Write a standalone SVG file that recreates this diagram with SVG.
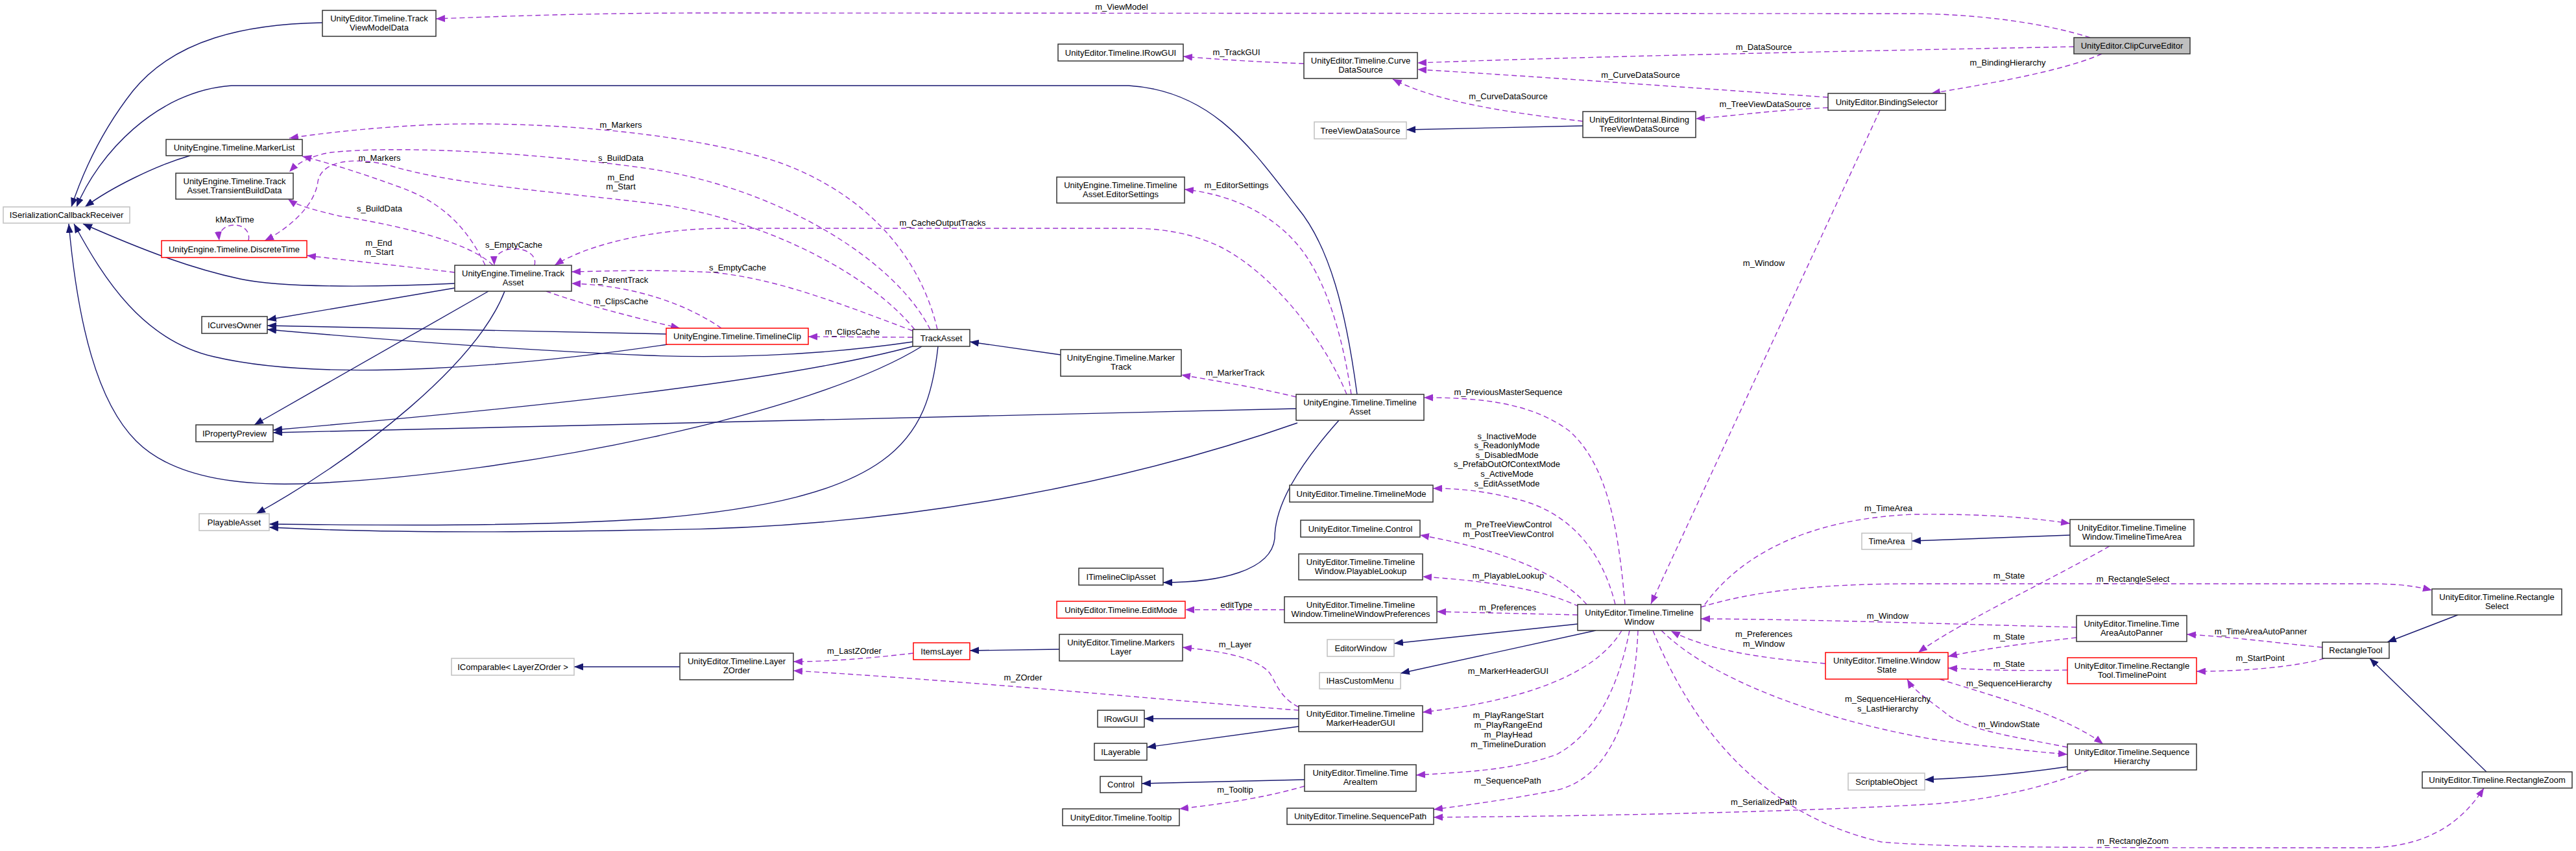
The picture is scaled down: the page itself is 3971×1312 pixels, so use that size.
<svg xmlns="http://www.w3.org/2000/svg" width="3971" height="1312" viewBox="0 0 3971 1312">
<style>
text{font-family:"Liberation Sans",Arial,sans-serif;font-size:13px;text-anchor:middle;fill:#000}
.n rect{fill:#fff;stroke:#333;stroke-width:1.5}
.n.red rect{stroke:#f00}
.n.gray rect{stroke:#c0c0c0}
.n.main rect{fill:#bfbfbf}
.inh{fill:none;stroke:#191970;stroke-width:1.4;marker-end:url(#an)}
.use{fill:none;stroke:#9a32cd;stroke-width:1.4;stroke-dasharray:8,5;marker-end:url(#ap)}
</style>
<defs>
<marker id="an" viewBox="0 0 14 11" refX="14" refY="5.5" markerWidth="14" markerHeight="11" markerUnits="userSpaceOnUse" orient="auto"><path d="M0,0 L14,5.5 L0,11 z" fill="#191970"/></marker>
<marker id="ap" viewBox="0 0 14 11" refX="14" refY="5.5" markerWidth="14" markerHeight="11" markerUnits="userSpaceOnUse" orient="auto"><path d="M0,0 L14,5.5 L0,11 z" fill="#9a32cd"/></marker>
</defs>
<rect width="3971" height="1312" fill="#fff"/>
<g id="connectors">
<path class="inh" d="M497,35 C380,37 270,60 205,140 C150,210 123,280 110,319"/>
<path class="inh" d="M2092,608 C2075,480 2050,380 2000,320 C1930,230 1870,140 1740,132 L357,132 C240,140 150,240 118,319"/>
<path class="inh" d="M293,240 C240,255 170,290 131,319"/>
<path class="inh" d="M701,437 C600,442 440,445 370,430 C300,415 230,390 128,345"/>
<path class="inh" d="M1421,534 C1250,640 800,730 485,745 C350,752 260,730 210,680 C150,620 120,500 106,345"/>
<path class="inh" d="M1029,531 C800,565 500,590 330,550 C220,525 160,430 114,345"/>
<path class="inh" d="M701,444 L412,493"/>
<path class="inh" d="M753,449 L392,655"/>
<path class="inh" d="M778,449 C735,560 560,700 395,792"/>
<path class="inh" d="M1027,515 L412,502"/>
<path class="inh" d="M1407,527 C1250,550 1100,552 1000,548 C800,540 550,520 412,508"/>
<path class="inh" d="M1407,534 C1200,590 800,630 421,663"/>
<path class="inh" d="M1998,630 L421,667"/>
<path class="inh" d="M1446,534 C1430,680 1380,770 1000,800 C800,812 600,810 415,808"/>
<path class="inh" d="M2000,652 C1750,740 1400,815 1000,817 C750,822 550,820 415,813"/>
<path class="inh" d="M2064,648 C2000,720 1965,780 1965,830 C1960,880 1880,898 1793,898"/>
<path class="inh" d="M1635,547 L1495,527"/>
<path class="inh" d="M2440,194 L2168,200"/>
<path class="inh" d="M3191,825 L2947,834"/>
<path class="inh" d="M1048,1028 L885,1028"/>
<path class="inh" d="M1633,1001 L1495,1003"/>
<path class="inh" d="M2002,1108 L1764,1108"/>
<path class="inh" d="M2002,1120 L1768,1152"/>
<path class="inh" d="M2011,1202 L1760,1208"/>
<path class="inh" d="M2432,962 L2149,992"/>
<path class="inh" d="M2460,972 L2159,1038"/>
<path class="inh" d="M3187,1182 C3100,1195 3020,1200 2967,1202"/>
<path class="inh" d="M3789,948 L3680,990"/>
<path class="inh" d="M3833,1190 L3653,1015"/>

<path class="use" d="M3222,58 C3150,35 3050,22 2950,21 L1100,20 C900,20 780,25 672,29"/>
<path class="use" d="M3197,72 C3000,76 2500,85 2185,97"/>
<path class="use" d="M3240,83 C3180,110 3060,130 2977,144"/>
<path class="use" d="M2818,150 C2600,135 2400,120 2185,107"/>
<path class="use" d="M2818,166 C2730,170 2680,178 2614,183"/>
<path class="use" d="M2440,187 C2340,175 2220,160 2147,122"/>
<path class="use" d="M2010,98 C1950,96 1880,92 1824,87"/>
<path class="use" d="M2898,170 L2545,931"/>
<path class="use" d="M2505,932 C2495,820 2480,720 2420,665 C2360,620 2280,613 2195,613"/>
<path class="use" d="M2490,932 C2470,850 2420,790 2340,770 C2290,757 2250,753 2209,753"/>
<path class="use" d="M2446,932 C2410,890 2330,850 2189,825"/>
<path class="use" d="M2434,935 C2370,905 2280,895 2193,889"/>
<path class="use" d="M2432,948 L2215,943"/>
<path class="use" d="M2500,972 C2460,1040 2350,1080 2193,1098"/>
<path class="use" d="M2512,972 C2495,1060 2460,1130 2400,1163 C2330,1188 2260,1190 2183,1195"/>
<path class="use" d="M2525,972 C2520,1100 2480,1200 2400,1218 C2330,1232 2270,1240 2210,1248"/>
<path class="use" d="M2628,932 C2680,860 2780,800 2950,793 C3060,792 3130,798 3191,807"/>
<path class="use" d="M2622,936 C2700,912 2800,900 2950,900 L3650,900 C3700,900 3725,904 3749,910"/>
<path class="use" d="M3201,967 C3000,962 2800,955 2622,954"/>
<path class="use" d="M3201,983 C3120,992 3060,1000 3003,1012"/>
<path class="use" d="M3187,1033 C3100,1035 3050,1032 3003,1030"/>
<path class="use" d="M3252,842 C3150,900 3020,960 2957,1006"/>
<path class="use" d="M2814,1023 C2720,1015 2640,1005 2576,973"/>
<path class="use" d="M2990,1047 C3060,1070 3180,1100 3242,1147"/>
<path class="use" d="M3187,1152 C3100,1135 3030,1125 3000,1100 C2975,1080 2950,1065 2940,1047"/>
<path class="use" d="M2561,972 C2650,1060 2850,1120 3000,1143 C3100,1155 3150,1160 3187,1163"/>
<path class="use" d="M3220,1187 C3150,1215 3060,1235 2971,1240 C2800,1250 2500,1258 2210,1260"/>
<path class="use" d="M2548,972 C2600,1100 2700,1252 2900,1298 C3000,1307 3200,1307 3647,1307 C3750,1307 3800,1260 3829,1215"/>
<path class="use" d="M3580,998 C3500,990 3440,982 3371,978"/>
<path class="use" d="M3583,1015 C3540,1028 3460,1035 3386,1035"/>
<path class="use" d="M1998,612 C1940,598 1880,588 1821,578"/>
<path class="use" d="M2076,608 C2040,520 1960,420 1880,380 C1830,356 1780,352 1740,352 L1120,352 C1000,352 900,380 855,409"/>
<path class="use" d="M2083,608 C2070,520 2045,430 2000,377 C1960,330 1900,300 1826,292"/>
<path class="use" d="M1407,520 L1246,519"/>
<path class="use" d="M1112,506 C1060,470 980,440 881,437"/>
<path class="use" d="M842,449 C900,470 980,490 1048,506"/>
<path class="use" d="M1407,510 C1300,470 1200,430 1100,420 C1000,415 940,418 881,419"/>
<path class="use" d="M824,409 C832,378 760,372 762,409"/>
<path class="use" d="M748,409 C720,350 680,310 612,287 C560,268 510,252 466,241"/>
<path class="use" d="M760,409 C720,370 600,345 523,333 C490,325 460,318 444,307"/>
<path class="use" d="M701,420 C620,410 550,403 473,394"/>
<path class="use" d="M1445,508 C1420,400 1340,300 1200,250 C1050,200 800,185 650,193 C560,198 500,205 446,213"/>
<path class="use" d="M1434,508 C1380,400 1200,290 1000,260 C800,232 600,225 510,235 C480,240 460,250 446,265"/>
<path class="use" d="M1410,508 C1330,410 1150,330 1000,313 C850,295 700,285 600,255 C540,240 495,250 490,280 C485,320 440,355 408,371"/>
<path class="use" d="M383,371 C390,340 334,338 338,371"/>
<path class="use" d="M1980,940 L1827,940"/>
<path class="use" d="M1408,1007 C1340,1015 1280,1020 1223,1020"/>
<path class="use" d="M2002,1095 C1800,1080 1500,1050 1223,1034"/>
<path class="use" d="M2002,1090 C1970,1075 1965,1045 1955,1035 C1930,1010 1870,1003 1823,998"/>
<path class="use" d="M2011,1212 C1950,1230 1880,1240 1818,1247"/>

<text x="1729" y="15">m_ViewModel</text>
<text x="1906" y="84.5">m_TrackGUI</text>
<text x="2719" y="77">m_DataSource</text>
<text x="3095" y="100.5">m_BindingHierarchy</text>
<text x="2529" y="119.5">m_CurveDataSource</text>
<text x="2325" y="152.5">m_CurveDataSource</text>
<text x="2721" y="164.5">m_TreeViewDataSource</text>
<text x="957" y="196.5">m_Markers</text>
<text x="585" y="247.5">m_Markers</text>
<text x="957" y="247.5">s_BuildData</text>
<text x="957" y="277.5">m_End</text>
<text x="957" y="291.5">m_Start</text>
<text x="1906" y="289.5">m_EditorSettings</text>
<text x="585" y="325.5">s_BuildData</text>
<text x="362" y="342.5">kMaxTime</text>
<text x="1453" y="347.5">m_CacheOutputTracks</text>
<text x="584" y="378.5">m_End</text>
<text x="584" y="392.5">m_Start</text>
<text x="792" y="381.5">s_EmptyCache</text>
<text x="2719" y="409.5">m_Window</text>
<text x="1137" y="416.5">s_EmptyCache</text>
<text x="955" y="435.5">m_ParentTrack</text>
<text x="957" y="468.5">m_ClipsCache</text>
<text x="1314" y="515.5">m_ClipsCache</text>
<text x="1904" y="578.5">m_MarkerTrack</text>
<text x="2325" y="608.5">m_PreviousMasterSequence</text>
<text x="2323" y="676.5">s_InactiveMode</text>
<text x="2323" y="691">s_ReadonlyMode</text>
<text x="2323" y="705.5">s_DisabledMode</text>
<text x="2323" y="720">s_PrefabOutOfContextMode</text>
<text x="2323" y="735">s_ActiveMode</text>
<text x="2323" y="749.5">s_EditAssetMode</text>
<text x="2911" y="787.5">m_TimeArea</text>
<text x="2325" y="812.5">m_PreTreeViewControl</text>
<text x="2325" y="827.5">m_PostTreeViewControl</text>
<text x="2325" y="891.5">m_PlayableLookup</text>
<text x="3097" y="891.5">m_State</text>
<text x="3288" y="896.5">m_RectangleSelect</text>
<text x="1906" y="936.5">editType</text>
<text x="2324" y="940.5">m_Preferences</text>
<text x="2910" y="953.5">m_Window</text>
<text x="3485" y="977.5">m_TimeAreaAutoPanner</text>
<text x="2719" y="981.5">m_Preferences</text>
<text x="2719" y="996.5">m_Window</text>
<text x="3097" y="985.5">m_State</text>
<text x="1904" y="997.5">m_Layer</text>
<text x="1317" y="1007.5">m_LastZOrder</text>
<text x="3484" y="1018.5">m_StartPoint</text>
<text x="3097" y="1027.5">m_State</text>
<text x="2325" y="1038.5">m_MarkerHeaderGUI</text>
<text x="1577" y="1048.5">m_ZOrder</text>
<text x="3097" y="1057.5">m_SequenceHierarchy</text>
<text x="2910" y="1081.5">m_SequenceHierarchy</text>
<text x="2910" y="1096.5">s_LastHierarchy</text>
<text x="2325" y="1106.5">m_PlayRangeStart</text>
<text x="2325" y="1121.5">m_PlayRangeEnd</text>
<text x="2325" y="1136.5">m_PlayHead</text>
<text x="2325" y="1151.5">m_TimelineDuration</text>
<text x="3097" y="1120.5">m_WindowState</text>
<text x="2324" y="1207.5">m_SequencePath</text>
<text x="1904" y="1221.5">m_Tooltip</text>
<text x="2719" y="1241">m_SerializedPath</text>
<text x="3288" y="1301">m_RectangleZoom</text>
</g>

<g id="ClipCurveEditor" class="n main"><rect x="3197" y="58" width="179" height="25"/><text x="3286.5" y="75">UnityEditor.ClipCurveEditor</text></g>
<g id="TrackViewModelData" class="n"><rect x="497" y="16" width="175" height="40"/><text x="584.5" y="33">UnityEditor.Timeline.Track</text><text x="584.5" y="47">ViewModelData</text></g>
<g id="CurveDataSource" class="n"><rect x="2010" y="81" width="175" height="40"/><text x="2097.5" y="98">UnityEditor.Timeline.Curve</text><text x="2097.5" y="112">DataSource</text></g>
<g id="EditorIRowGUI" class="n"><rect x="1631" y="68" width="193" height="26"/><text x="1727.5" y="85.5">UnityEditor.Timeline.IRowGUI</text></g>
<g id="BindingSelector" class="n"><rect x="2818" y="144" width="181" height="26"/><text x="2908.5" y="161.5">UnityEditor.BindingSelector</text></g>
<g id="BindingTreeViewDataSource" class="n"><rect x="2440" y="172" width="174" height="40"/><text x="2527" y="189">UnityEditorInternal.Binding</text><text x="2527" y="203">TreeViewDataSource</text></g>
<g id="TreeViewDataSource" class="n gray"><rect x="2026" y="188" width="142" height="26"/><text x="2097" y="205.5">TreeViewDataSource</text></g>
<g id="MarkerList" class="n"><rect x="256" y="215" width="210" height="25"/><text x="361" y="232">UnityEngine.Timeline.MarkerList</text></g>
<g id="TransientBuildData" class="n"><rect x="271" y="267" width="181" height="40"/><text x="361.5" y="284">UnityEngine.Timeline.Track</text><text x="361.5" y="298">Asset.TransientBuildData</text></g>
<g id="EditorSettings" class="n"><rect x="1629" y="273" width="197" height="40"/><text x="1727.5" y="290">UnityEngine.Timeline.Timeline</text><text x="1727.5" y="304">Asset.EditorSettings</text></g>
<g id="ISerializationCallbackReceiver" class="n gray"><rect x="5" y="319" width="195" height="25"/><text x="102.5" y="336">ISerializationCallbackReceiver</text></g>
<g id="DiscreteTime" class="n red"><rect x="249" y="371" width="224" height="26"/><text x="361" y="388.5">UnityEngine.Timeline.DiscreteTime</text></g>
<g id="UETrackAsset" class="n"><rect x="701" y="409" width="180" height="40"/><text x="791" y="426">UnityEngine.Timeline.Track</text><text x="791" y="440">Asset</text></g>
<g id="ICurvesOwner" class="n"><rect x="311" y="488" width="101" height="26"/><text x="361.5" y="505.5">ICurvesOwner</text></g>
<g id="TimelineClip" class="n red"><rect x="1027" y="506" width="219" height="25"/><text x="1136.5" y="523">UnityEngine.Timeline.TimelineClip</text></g>
<g id="TrackAsset" class="n"><rect x="1407" y="508" width="88" height="26"/><text x="1451" y="525.5">TrackAsset</text></g>
<g id="MarkerTrack" class="n"><rect x="1635" y="539" width="186" height="41"/><text x="1728" y="556">UnityEngine.Timeline.Marker</text><text x="1728" y="570">Track</text></g>
<g id="TimelineAsset" class="n"><rect x="1998" y="608" width="197" height="40"/><text x="2096.5" y="625">UnityEngine.Timeline.Timeline</text><text x="2096.5" y="639">Asset</text></g>
<g id="IPropertyPreview" class="n"><rect x="302" y="655" width="119" height="26"/><text x="361.5" y="672.5">IPropertyPreview</text></g>
<g id="TimelineMode" class="n"><rect x="1988" y="748" width="221" height="26"/><text x="2098.5" y="765.5">UnityEditor.Timeline.TimelineMode</text></g>
<g id="PlayableAsset" class="n gray"><rect x="307" y="792" width="108" height="26"/><text x="361" y="809.5">PlayableAsset</text></g>
<g id="EditorControl" class="n"><rect x="2005" y="802" width="184" height="26"/><text x="2097" y="819.5">UnityEditor.Timeline.Control</text></g>
<g id="TimeArea" class="n gray"><rect x="2870" y="822" width="77" height="25"/><text x="2908.5" y="839">TimeArea</text></g>
<g id="TimelineTimeArea" class="n"><rect x="3191" y="801" width="191" height="41"/><text x="3286.5" y="818">UnityEditor.Timeline.Timeline</text><text x="3286.5" y="832">Window.TimelineTimeArea</text></g>
<g id="PlayableLookup" class="n"><rect x="2002" y="854" width="191" height="40"/><text x="2097.5" y="871">UnityEditor.Timeline.Timeline</text><text x="2097.5" y="885">Window.PlayableLookup</text></g>
<g id="ITimelineClipAsset" class="n"><rect x="1663" y="876" width="130" height="26"/><text x="1728" y="893.5">ITimelineClipAsset</text></g>
<g id="RectangleSelect" class="n"><rect x="3749" y="908" width="200" height="40"/><text x="3849" y="925">UnityEditor.Timeline.Rectangle</text><text x="3849" y="939">Select</text></g>
<g id="EditMode" class="n red"><rect x="1629" y="927" width="198" height="26"/><text x="1728" y="944.5">UnityEditor.Timeline.EditMode</text></g>
<g id="TimelineWindowPreferences" class="n"><rect x="1980" y="920" width="235" height="40"/><text x="2097.5" y="937">UnityEditor.Timeline.Timeline</text><text x="2097.5" y="951">Window.TimelineWindowPreferences</text></g>
<g id="TimelineWindow" class="n"><rect x="2432" y="932" width="190" height="40"/><text x="2527" y="949">UnityEditor.Timeline.Timeline</text><text x="2527" y="963">Window</text></g>
<g id="TimeAreaAutoPanner" class="n"><rect x="3201" y="949" width="170" height="40"/><text x="3286" y="966">UnityEditor.Timeline.Time</text><text x="3286" y="980">AreaAutoPanner</text></g>
<g id="EditorWindow" class="n gray"><rect x="2046" y="986" width="103" height="26"/><text x="2097.5" y="1003.5">EditorWindow</text></g>
<g id="ItemsLayer" class="n red"><rect x="1408" y="991" width="87" height="26"/><text x="1451.5" y="1008.5">ItemsLayer</text></g>
<g id="MarkersLayer" class="n"><rect x="1633" y="978" width="190" height="41"/><text x="1728" y="995">UnityEditor.Timeline.Markers</text><text x="1728" y="1009">Layer</text></g>
<g id="RectangleTool" class="n"><rect x="3580" y="990" width="103" height="25"/><text x="3631.5" y="1007">RectangleTool</text></g>
<g id="WindowState" class="n red"><rect x="2814" y="1006" width="189" height="41"/><text x="2908.5" y="1023">UnityEditor.Timeline.Window</text><text x="2908.5" y="1037">State</text></g>
<g id="LayerZOrder" class="n"><rect x="1048" y="1007" width="175" height="41"/><text x="1135.5" y="1024">UnityEditor.Timeline.Layer</text><text x="1135.5" y="1038">ZOrder</text></g>
<g id="TimelinePoint" class="n red"><rect x="3187" y="1014" width="199" height="40"/><text x="3286.5" y="1031">UnityEditor.Timeline.Rectangle</text><text x="3286.5" y="1045">Tool.TimelinePoint</text></g>
<g id="IComparable" class="n gray"><rect x="696" y="1015" width="189" height="26"/><text x="790.5" y="1032.5">IComparable&lt; LayerZOrder &gt;</text></g>
<g id="IHasCustomMenu" class="n gray"><rect x="2034" y="1037" width="125" height="25"/><text x="2096.5" y="1054">IHasCustomMenu</text></g>
<g id="MarkerHeaderGUI" class="n"><rect x="2002" y="1088" width="191" height="40"/><text x="2097.5" y="1105">UnityEditor.Timeline.Timeline</text><text x="2097.5" y="1119">MarkerHeaderGUI</text></g>
<g id="IRowGUI" class="n"><rect x="1692" y="1095" width="72" height="26"/><text x="1728" y="1112.5">IRowGUI</text></g>
<g id="ILayerable" class="n"><rect x="1687" y="1146" width="81" height="26"/><text x="1727.5" y="1163.5">ILayerable</text></g>
<g id="SequenceHierarchy" class="n"><rect x="3187" y="1147" width="199" height="40"/><text x="3286.5" y="1164">UnityEditor.Timeline.Sequence</text><text x="3286.5" y="1178">Hierarchy</text></g>
<g id="TimeAreaItem" class="n"><rect x="2011" y="1179" width="172" height="41"/><text x="2097" y="1196">UnityEditor.Timeline.Time</text><text x="2097" y="1210">AreaItem</text></g>
<g id="ScriptableObject" class="n gray"><rect x="2849" y="1192" width="118" height="26"/><text x="2908" y="1209.5">ScriptableObject</text></g>
<g id="RectangleZoom" class="n"><rect x="3734" y="1190" width="231" height="25"/><text x="3849.5" y="1207">UnityEditor.Timeline.RectangleZoom</text></g>
<g id="Control" class="n"><rect x="1696" y="1197" width="64" height="25"/><text x="1728" y="1214">Control</text></g>
<g id="SequencePath" class="n"><rect x="1984" y="1246" width="226" height="25"/><text x="2097" y="1263">UnityEditor.Timeline.SequencePath</text></g>
<g id="Tooltip" class="n"><rect x="1638" y="1247" width="180" height="26"/><text x="1728" y="1264.5">UnityEditor.Timeline.Tooltip</text></g>
</svg>
